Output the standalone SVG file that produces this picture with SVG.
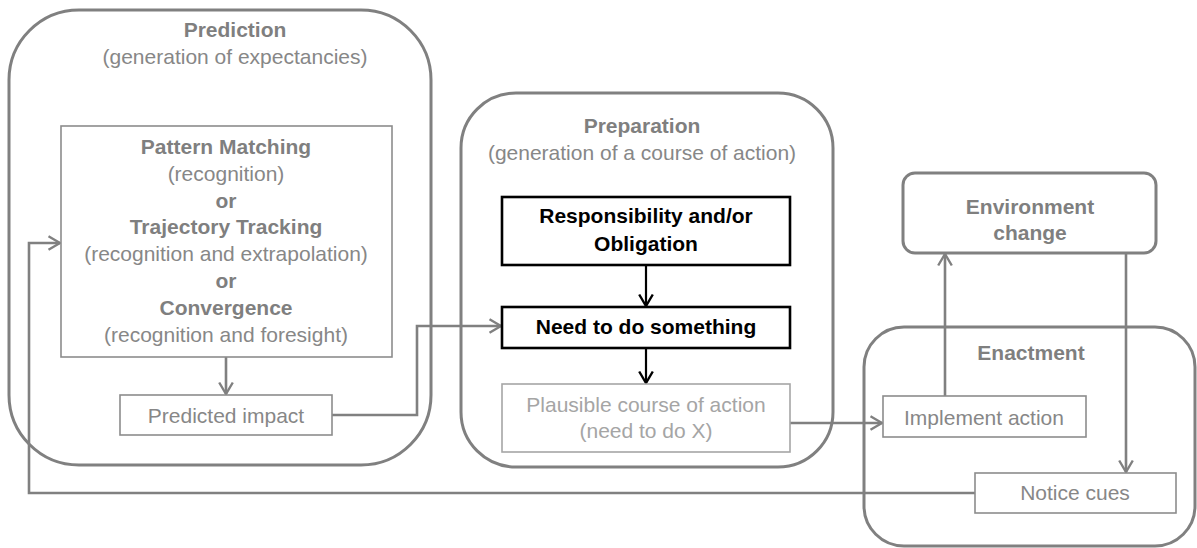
<svg xmlns="http://www.w3.org/2000/svg" width="1197" height="548" viewBox="0 0 1197 548">
  <defs>
    <marker id="arrow-gray" viewBox="0 0 14 16" refX="13" refY="8" markerWidth="14" markerHeight="16" markerUnits="userSpaceOnUse" orient="auto">
      <path d="M1.5,1.2 L13,8 L1.5,14.8" fill="none" stroke="#808080" stroke-width="2.4"/>
    </marker>
    <marker id="arrow-black" viewBox="0 0 14 16" refX="13" refY="8" markerWidth="14" markerHeight="16" markerUnits="userSpaceOnUse" orient="auto">
      <path d="M1.5,1.2 L13,8 L1.5,14.8" fill="none" stroke="#000000" stroke-width="2.4"/>
    </marker>
    <style>
      text { font-family: "Liberation Sans", Arial, sans-serif; font-size: 21px; text-anchor: middle; }
      .title { font-weight: bold; fill: #7f7f7f; }
      .sub { fill: #878787; }
      .strong { font-weight: bold; fill: #000000; }
      .faint { fill: #a5a5a5; }
      .stage { fill: none; stroke: #808080; stroke-width: 3; }
      .box { fill: #ffffff; stroke: #8c8c8c; stroke-width: 1.6; }
      .box-black { fill: #ffffff; stroke: #000000; stroke-width: 2.6; }
      .box-faint { fill: #ffffff; stroke: #a6a6a6; stroke-width: 1.6; }
      .link { fill: none; stroke: #808080; stroke-width: 2.6; }
      .link-black { fill: none; stroke: #000000; stroke-width: 2.2; }
    </style>
  </defs>

  <rect width="1197" height="548" fill="#ffffff"/>

  <!-- Prediction stage -->
  <g id="prediction">
    <rect class="stage" x="9" y="10" width="422" height="455" rx="70" ry="70"/>
    <text class="title" x="235" y="37">Prediction</text>
    <text class="sub" x="235" y="64">(generation of expectancies)</text>
  </g>

  <!-- Preparation stage -->
  <g id="preparation">
    <rect class="stage" x="461" y="93" width="372" height="374" rx="55" ry="55"/>
    <text class="title" x="642" y="133">Preparation</text>
    <text class="sub" x="642" y="160">(generation of a course of action)</text>
  </g>

  <!-- Enactment stage -->
  <g id="enactment">
    <rect class="stage" x="864" y="327" width="331" height="219" rx="40" ry="40"/>
    <text class="title" x="1031" y="360">Enactment</text>
  </g>

  <!-- Connectors -->
  <g id="connectors">
    <path class="link" d="M226,357 V394" marker-end="url(#arrow-gray)"/>
    <path class="link" d="M332,415 H417 V326 H501" marker-end="url(#arrow-gray)"/>
    <path class="link-black" d="M646,265 V306" marker-end="url(#arrow-black)"/>
    <path class="link-black" d="M646,348 V383" marker-end="url(#arrow-black)"/>
    <path class="link" d="M790,423 H882" marker-end="url(#arrow-gray)"/>
    <path class="link" d="M945,396 V254" marker-end="url(#arrow-gray)"/>
    <path class="link" d="M1126,253 V472" marker-end="url(#arrow-gray)"/>
    <path class="link" d="M975,493 H29 V243 H60" marker-end="url(#arrow-gray)"/>
  </g>

  <!-- Recognition modes -->
  <g id="pattern-matching">
    <rect class="box" x="61" y="126" width="331" height="231"/>
    <text class="title" x="226" y="154">Pattern Matching</text>
    <text class="sub" x="226" y="181">(recognition)</text>
    <text class="title" x="226" y="208">or</text>
    <text class="title" x="226" y="234">Trajectory Tracking</text>
    <text class="sub" x="226" y="261">(recognition and extrapolation)</text>
    <text class="title" x="226" y="288">or</text>
    <text class="title" x="226" y="315">Convergence</text>
    <text class="sub" x="226" y="342">(recognition and foresight)</text>
  </g>

  <g id="predicted-impact">
    <rect class="box" x="120" y="395" width="212" height="40"/>
    <text class="sub" x="226" y="423">Predicted impact</text>
  </g>

  <g id="responsibility">
    <rect class="box-black" x="502" y="197" width="288" height="68"/>
    <text class="strong" x="646" y="223">Responsibility and/or</text>
    <text class="strong" x="646" y="251">Obligation</text>
  </g>

  <g id="need-to-do">
    <rect class="box-black" x="502" y="307" width="288" height="41"/>
    <text class="strong" x="646" y="334">Need to do something</text>
  </g>

  <g id="plausible-action">
    <rect class="box-faint" x="502" y="384" width="288" height="68"/>
    <text class="faint" x="646" y="412">Plausible course of action</text>
    <text class="faint" x="646" y="438">(need to do X)</text>
  </g>

  <g id="environment-change">
    <rect class="stage" x="903" y="173" width="253" height="80" rx="12" ry="12" fill="#ffffff"/>
    <text class="title" x="1030" y="214">Environment</text>
    <text class="title" x="1030" y="240">change</text>
  </g>

  <g id="implement-action">
    <rect class="box" x="883" y="396" width="203" height="41"/>
    <text class="sub" x="984" y="425">Implement action</text>
  </g>

  <g id="notice-cues">
    <rect class="box" x="975" y="473" width="201" height="40"/>
    <text class="sub" x="1075" y="500">Notice cues</text>
  </g>
</svg>
